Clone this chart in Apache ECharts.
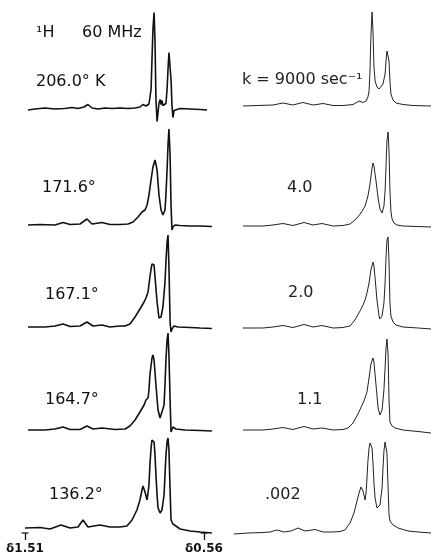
<!DOCTYPE html>
<html><head><meta charset="utf-8">
<script src="https://cdn.jsdelivr.net/npm/echarts@6/dist/echarts.min.js"></script>
<style>html,body{margin:0;padding:0;background:#fff}#c{width:431px;height:558px}</style>
</head><body><div id="c"></div>
<script>
// ---- data (chemical shift in ppm, signal height in arbitrary units above baseline) ----
const tickValues = [1.51, 0.56];
const headerTexts = ['¹H', '60 MHz'];
const tempLabels = ['206.0° K', '171.6°', '167.1°', '164.7°', '136.2°'];
const rateLabels = ['k = 9000 sec⁻¹', '4.0', '2.0', '1.1', '.002'];

const obs206 = [[1.494,-0.5],[1.457,0.5],[1.404,1.5],[1.351,0.5],[1.298,1],[1.261,2],[1.229,1],[1.197,2.5],[1.176,5],[1.154,1.5],[1.123,0.5],[1.085,1.5],[1.048,1],[1.006,1.5],[0.963,1],[0.926,1.5],[0.900,2.5],[0.884,5],[0.868,3.5],[0.852,5.5],[0.841,20],[0.836,50],[0.831,80],[0.825,97],[0.820,68],[0.815,10],[0.809,-12],[0.804,-3],[0.799,6],[0.793,10],[0.788,5],[0.783,9],[0.778,4],[0.762,6],[0.756,20],[0.751,40],[0.746,57],[0.740,58],[0.735,30],[0.730,4],[0.725,-8],[0.719,-1],[0.709,1],[0.687,1],[0.634,0.5],[0.581,0],[0.544,-0.5]];
const obs171 = [[1.494,0],[1.430,0.5],[1.351,0],[1.308,2.5],[1.271,0.5],[1.218,1],[1.181,6],[1.154,1],[1.101,2.5],[1.059,0.5],[1.006,0.5],[0.963,1],[0.937,3],[0.910,8],[0.889,13],[0.873,15],[0.862,20],[0.852,30],[0.841,45],[0.831,58],[0.820,65],[0.809,55],[0.799,30],[0.788,15],[0.778,10],[0.767,15],[0.762,30],[0.756,55],[0.751,80],[0.746,96],[0.740,70],[0.735,20],[0.730,-5],[0.725,-2],[0.714,0],[0.687,-0.5],[0.634,-1],[0.581,-1],[0.518,-1.5]];
const obs167 = [[1.494,0],[1.404,0],[1.351,1],[1.308,3],[1.271,0.5],[1.218,1],[1.181,5],[1.149,1],[1.101,2],[1.059,0],[1.006,1],[0.979,1],[0.953,3],[0.926,10],[0.900,18],[0.878,25],[0.868,29],[0.857,35],[0.847,50],[0.841,58],[0.836,63],[0.831,65],[0.825,62],[0.820,50],[0.809,25],[0.799,9],[0.788,10],[0.778,20],[0.767,45],[0.762,65],[0.756,85],[0.751,92],[0.746,60],[0.740,5],[0.735,-5],[0.730,-2],[0.719,1],[0.698,0],[0.634,-0.5],[0.581,-1],[0.518,-1.5]];
const obs164 = [[1.494,0],[1.404,0],[1.351,1],[1.308,3],[1.271,0.5],[1.218,0.5],[1.181,4],[1.149,1],[1.101,2],[1.032,0.5],[0.979,1],[0.953,4],[0.926,10],[0.900,18],[0.878,25],[0.868,30],[0.857,32],[0.852,40],[0.847,55],[0.836,72],[0.831,75],[0.825,70],[0.815,45],[0.804,20],[0.793,12],[0.783,12],[0.772,25],[0.767,45],[0.762,70],[0.756,90],[0.751,97],[0.746,75],[0.740,30],[0.735,-2],[0.730,-3],[0.725,3],[0.719,2],[0.709,1],[0.661,0],[0.581,-0.5],[0.518,-1]];
const obs136 = [[1.510,2],[1.430,2.5],[1.377,1],[1.319,5],[1.271,2],[1.229,3],[1.202,10],[1.176,3],[1.112,5],[1.059,3],[1.006,3],[0.969,4],[0.942,10],[0.916,20],[0.900,30],[0.889,40],[0.884,44],[0.873,38],[0.862,30],[0.852,45],[0.847,65],[0.841,82],[0.836,90],[0.831,92],[0.825,88],[0.820,75],[0.815,55],[0.809,35],[0.804,22],[0.793,17],[0.783,20],[0.772,35],[0.767,55],[0.762,75],[0.756,88],[0.751,92],[0.746,80],[0.740,40],[0.735,10],[0.725,6],[0.709,4],[0.687,1],[0.634,-1],[0.581,-2],[0.518,-3]];

const calc9000 = [[1.510,0],[1.430,0.5],[1.351,1],[1.298,3],[1.245,1],[1.192,3.5],[1.138,1],[1.085,2.5],[1.032,0.5],[0.979,0.5],[0.926,1.5],[0.894,5],[0.873,3.5],[0.857,5],[0.847,9],[0.841,15],[0.836,35],[0.831,70],[0.825,94],[0.820,75],[0.815,40],[0.809,25],[0.799,19],[0.788,17],[0.778,18],[0.767,22],[0.756,32],[0.751,45],[0.746,55],[0.740,57],[0.735,45],[0.730,25],[0.725,12],[0.714,6],[0.698,3],[0.661,1.5],[0.608,0.5],[0.512,0]];
const calc4 = [[1.510,0],[1.404,0],[1.351,1],[1.298,2.5],[1.245,0.5],[1.186,3.5],[1.138,1],[1.091,2.5],[1.032,0],[0.979,0.5],[0.942,2],[0.910,7],[0.884,13],[0.862,20],[0.847,30],[0.836,42],[0.825,58],[0.820,63],[0.815,60],[0.804,45],[0.793,28],[0.783,17],[0.772,13],[0.762,20],[0.756,35],[0.751,60],[0.746,85],[0.740,94],[0.735,75],[0.730,35],[0.725,15],[0.719,7],[0.709,3],[0.693,1],[0.661,0],[0.512,-1]];
const calc2 = [[1.510,0],[1.404,0],[1.351,1],[1.298,2.5],[1.245,0.5],[1.186,3.5],[1.138,1],[1.091,2.5],[1.032,0],[0.979,0.5],[0.942,2],[0.916,8],[0.889,17],[0.873,23],[0.862,28],[0.852,35],[0.841,45],[0.831,58],[0.820,66],[0.815,62],[0.809,50],[0.799,28],[0.788,12],[0.783,9],[0.772,12],[0.762,25],[0.756,45],[0.751,70],[0.746,88],[0.740,91],[0.735,65],[0.730,25],[0.725,12],[0.714,6],[0.698,3],[0.661,1],[0.581,0],[0.512,-1]];
const calc1 = [[1.510,0],[1.404,0],[1.351,1],[1.298,2.5],[1.245,0.5],[1.186,3.5],[1.138,1],[1.091,2],[1.032,0],[0.979,0.5],[0.953,2],[0.926,7],[0.900,16],[0.878,25],[0.868,29],[0.862,30],[0.852,38],[0.841,52],[0.831,66],[0.820,72],[0.815,68],[0.804,45],[0.793,22],[0.783,15],[0.772,20],[0.762,40],[0.756,62],[0.751,82],[0.746,91],[0.740,75],[0.735,30],[0.730,8],[0.719,4],[0.703,2],[0.661,0],[0.581,-1.5],[0.512,-3]];
const calc002 = [[1.558,-1],[1.483,0],[1.404,0.5],[1.367,1],[1.330,3],[1.292,1],[1.255,2],[1.218,5],[1.181,2],[1.128,3.5],[1.085,1],[1.032,1],[0.995,1.5],[0.969,3],[0.942,10],[0.921,20],[0.905,32],[0.894,40],[0.884,46],[0.878,47],[0.873,42],[0.862,33],[0.857,40],[0.852,55],[0.847,72],[0.841,85],[0.836,90],[0.831,91],[0.825,85],[0.820,70],[0.815,50],[0.809,35],[0.799,25],[0.793,23],[0.783,28],[0.772,45],[0.767,65],[0.762,82],[0.756,91],[0.751,93],[0.746,80],[0.740,45],[0.735,18],[0.730,12],[0.714,8],[0.687,5],[0.634,2],[0.581,1],[0.512,0]];

const observed = [obs206, obs171, obs167, obs164, obs136];
const calculated = [calc9000, calc4, calc2, calc1, calc002];

// ---- layout ----
const H = 558;
const PX = 188.42;              // px per ppm
const X_MAX = 1.56, X_MIN = 0.50;
const gridW = (X_MAX - X_MIN) * PX;
const gridL = 25 - (X_MAX - 1.51) * PX;
const rightShift = 218;
const leftBase = [448.5, 333, 231, 128, 28];
const rightBase = [452, 332, 230, 128, 25];
const headerPos = [[36, 33], [82, 33]];
const tempPos = [[36, 82], [42, 188], [45, 295], [45, 400], [49, 495]];
const ratePos = [[242, 80], [287, 188], [288, 293], [297, 400], [265, 495]];
const FONT = '16px "DejaVu Sans"';

const series = [];
observed.forEach((d, i) => series.push({
  type: 'line', xAxisIndex: 0, yAxisIndex: 0, showSymbol: false, silent: true,
  data: d.map(p => [p[0], p[1] + leftBase[i]]),
  lineStyle: { color: '#111', width: 1.6 }
}));
calculated.forEach((d, i) => series.push({
  type: 'line', xAxisIndex: 1, yAxisIndex: 1, showSymbol: false, silent: true,
  data: d.map(p => [p[0], p[1] + rightBase[i]]),
  lineStyle: { color: '#222', width: 1 }
}));
series.push({
  type: 'scatter', xAxisIndex: 2, yAxisIndex: 2, silent: true,
  data: tickValues.map(v => [v, 0]),
  symbol: 'rect', symbolSize: [7, 1.5], itemStyle: { color: '#111' }
});

const texts = [];
headerTexts.forEach((t, i) => texts.push({ type: 'text', x: headerPos[i][0], y: headerPos[i][1], style: { text: t, font: FONT, fill: '#111', verticalAlign: 'middle' } }));
tempLabels.forEach((t, i) => texts.push({ type: 'text', x: tempPos[i][0], y: tempPos[i][1], style: { text: t, font: FONT, fill: '#111', verticalAlign: 'middle' } }));
rateLabels.forEach((t, i) => texts.push({ type: 'text', x: ratePos[i][0], y: ratePos[i][1], style: { text: t, font: FONT, fill: '#222', verticalAlign: 'middle' } }));

const hiddenX = { type: 'value', min: X_MIN, max: X_MAX, inverse: true, show: false };
const hiddenY = { type: 'value', min: 0, max: H, show: false };

const chart = echarts.init(document.getElementById('c'), null, { renderer: 'canvas' });
chart.setOption({
  animation: false,
  backgroundColor: '#fff',
  grid: [
    { left: gridL, top: 0, width: gridW, height: H, outerBoundsMode: 'none', containLabel: false },
    { left: gridL + rightShift, top: 0, width: gridW, height: H, outerBoundsMode: 'none', containLabel: false },
    { left: gridL, top: 532, width: gridW, height: 1, outerBoundsMode: 'none', containLabel: false }
  ],
  xAxis: [
    Object.assign({ gridIndex: 0 }, hiddenX),
    Object.assign({ gridIndex: 1 }, hiddenX),
    { gridIndex: 2, type: 'value', min: X_MIN, max: X_MAX, inverse: true,
      axisLine: { show: false }, splitLine: { show: false },
      axisTick: { show: true, customValues: tickValues, length: 7, lineStyle: { color: '#111', width: 1.3 } },
      axisLabel: { customValues: tickValues, formatter: v => 'δ' + v.toFixed(2), fontSize: 12, color: '#111', margin: 10, fontFamily: 'DejaVu Sans', fontWeight: 'bold' } }
  ],
  yAxis: [
    Object.assign({ gridIndex: 0 }, hiddenY),
    Object.assign({ gridIndex: 1 }, hiddenY),
    { gridIndex: 2, type: 'value', min: 0, max: 1, show: false }
  ],
  graphic: texts,
  series: series
});
</script></body></html>
